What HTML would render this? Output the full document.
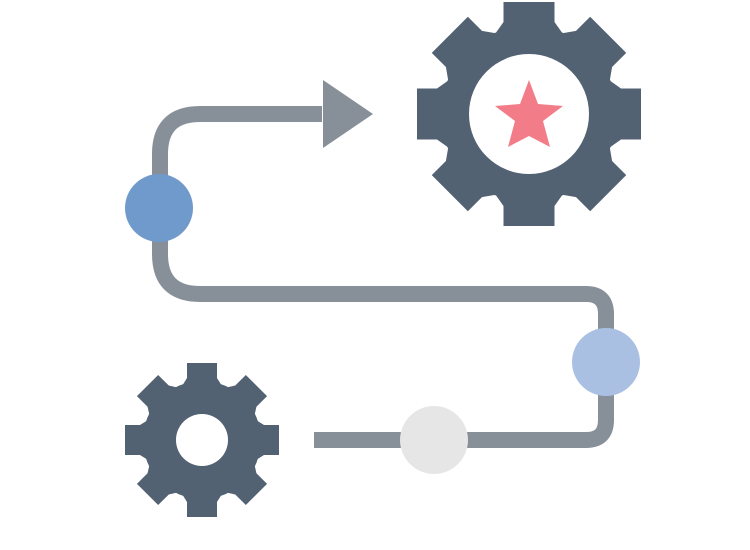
<!DOCTYPE html>
<html><head><meta charset="utf-8"><style>html,body{margin:0;padding:0;background:#fff;width:750px;height:550px;overflow:hidden}</style></head>
<body>
<svg width="750" height="550" viewBox="0 0 750 550" xmlns="http://www.w3.org/2000/svg">
<rect width="750" height="550" fill="#fff"/>
<g fill="none" stroke="#878f99" stroke-width="16">
<path d="M322 114 H200 Q160 114 160 154 V254 Q160 294 200 294 H586 Q606 294 606 314 V420 Q606 440 586 440 H314"/>
</g>
<polygon points="323,80 373,114 323,148" fill="#878f99"/>
<circle cx="159" cy="208" r="34" fill="#7099cc"/>
<circle cx="606" cy="362" r="34" fill="#aac0e2"/>
<circle cx="434" cy="440" r="34" fill="#e6e6e6"/>
<g fill="#536273" transform="translate(529,114)">
<circle r="88"/>
<g id="t1"><polygon points="-25.5,-112 25.5,-112 25.5,-92 34,-80 -34,-80 -25.5,-92"/></g>
<use href="#t1" transform="rotate(45)"/><use href="#t1" transform="rotate(90)"/><use href="#t1" transform="rotate(135)"/>
<use href="#t1" transform="rotate(180)"/><use href="#t1" transform="rotate(225)"/><use href="#t1" transform="rotate(270)"/><use href="#t1" transform="rotate(315)"/>
<circle r="60" fill="#fff"/>
<polygon fill="#f27d89" points="0,-34 9,-10 34,-8 14,7 21,33 0,22 -21,33 -14,7 -34,-8 -9,-10"/>
</g>
<g fill="#536273" transform="translate(202,440)">
<circle r="59"/>
<g id="t2"><polygon points="-15,-77 15,-77 15,-62 20,-54 -20,-54 -15,-62"/></g>
<use href="#t2" transform="rotate(45)"/><use href="#t2" transform="rotate(90)"/><use href="#t2" transform="rotate(135)"/>
<use href="#t2" transform="rotate(180)"/><use href="#t2" transform="rotate(225)"/><use href="#t2" transform="rotate(270)"/><use href="#t2" transform="rotate(315)"/>
<circle r="26" fill="#fff"/>
</g>
</svg>
</body></html>
